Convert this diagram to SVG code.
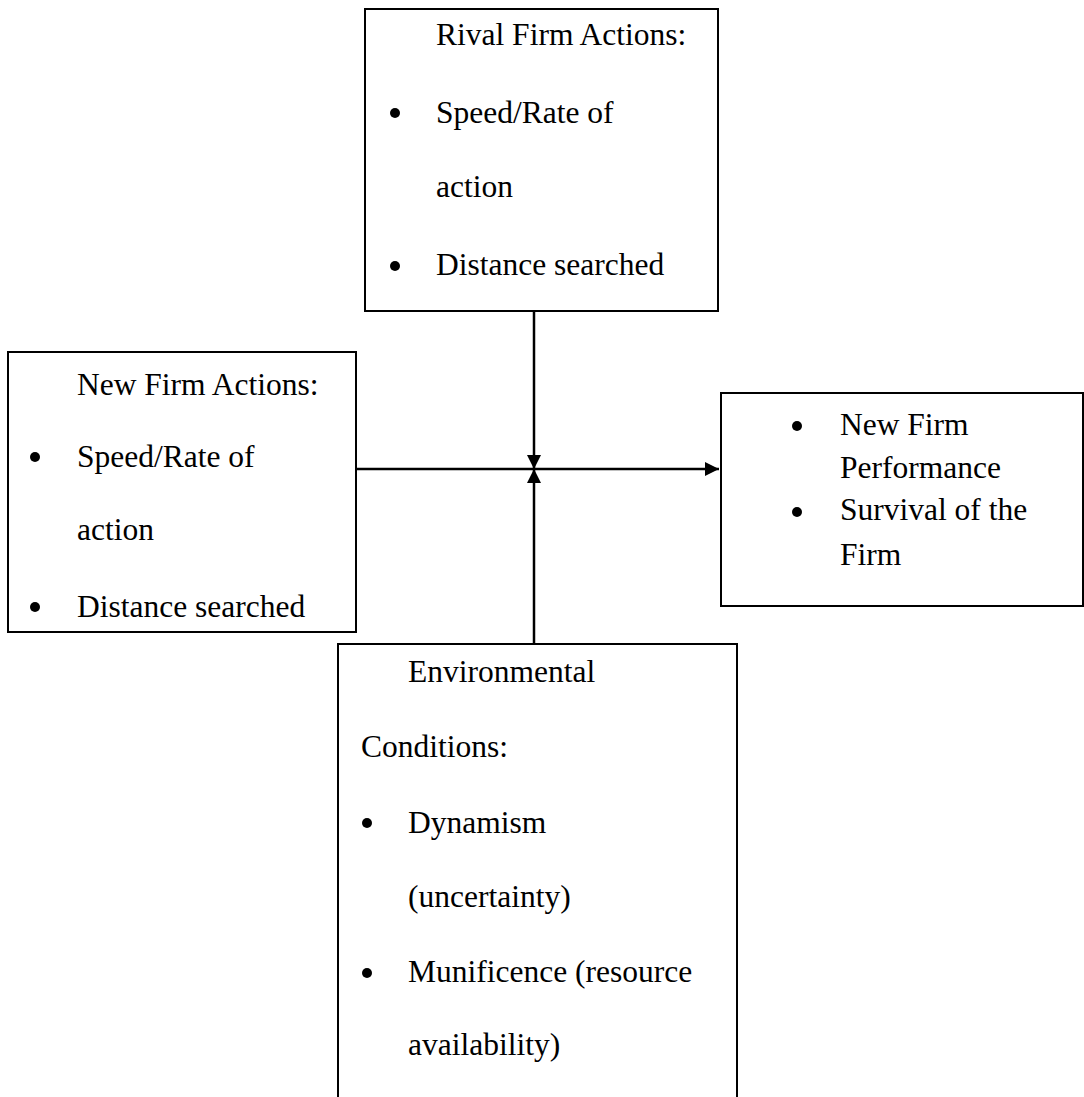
<svg xmlns="http://www.w3.org/2000/svg" width="1084" height="1097" viewBox="0 0 1084 1097">
<style>
.box{fill:#fff;stroke:#000;stroke-width:2}
.t{font-family:"Liberation Serif","Times New Roman",serif;font-size:31.5px;fill:#000}
.b{fill:#000}
.c{stroke:#000;stroke-width:2.5;fill:none}
</style>
<defs>
<marker id="ah" markerWidth="14" markerHeight="14" refX="14" refY="7" orient="auto" markerUnits="userSpaceOnUse">
<path d="M0,0 L14,7 L0,14 Z" fill="#000"/>
</marker>
</defs>
<rect width="1084" height="1097" fill="#fff"/>
<g id="connectors">
<line class="c" x1="534" y1="311" x2="534" y2="469" marker-end="url(#ah)"/>
<line class="c" x1="534" y1="644" x2="534" y2="469" marker-end="url(#ah)"/>
<line class="c" x1="356" y1="469" x2="719" y2="469" marker-end="url(#ah)"/>
</g>
<g id="rival">
<rect class="box" x="365" y="9" width="353" height="302"/>
<text class="t" x="436" y="45">Rival Firm Actions:</text>
<circle class="b" cx="395" cy="113" r="5"/>
<text class="t" x="436" y="123">Speed/Rate of</text>
<text class="t" x="436" y="197">action</text>
<circle class="b" cx="395" cy="266" r="5"/>
<text class="t" x="436" y="275">Distance searched</text>
</g>
<g id="newfirm">
<rect class="box" x="8" y="352" width="348" height="280"/>
<text class="t" x="77" y="395">New Firm Actions:</text>
<circle class="b" cx="35" cy="457" r="5"/>
<text class="t" x="77" y="467">Speed/Rate of</text>
<text class="t" x="77" y="540">action</text>
<circle class="b" cx="35" cy="607" r="5"/>
<text class="t" x="77" y="617">Distance searched</text>
</g>
<g id="performance">
<rect class="box" x="721" y="393" width="362" height="213"/>
<circle class="b" cx="797" cy="426" r="5"/>
<text class="t" x="840" y="435">New Firm</text>
<text class="t" x="840" y="478">Performance</text>
<circle class="b" cx="797" cy="512" r="5"/>
<text class="t" x="840" y="520">Survival of the</text>
<text class="t" x="840" y="565">Firm</text>
</g>
<g id="environment">
<rect class="box" x="338" y="644" width="399" height="470"/>
<text class="t" x="408" y="682">Environmental</text>
<text class="t" x="361" y="757">Conditions:</text>
<circle class="b" cx="367" cy="823" r="5"/>
<text class="t" x="408" y="833">Dynamism</text>
<text class="t" x="408" y="907">(uncertainty)</text>
<circle class="b" cx="367" cy="973" r="5"/>
<text class="t" x="408" y="982">Munificence (resource</text>
<text class="t" x="408" y="1055">availability)</text>
</g>
</svg>
